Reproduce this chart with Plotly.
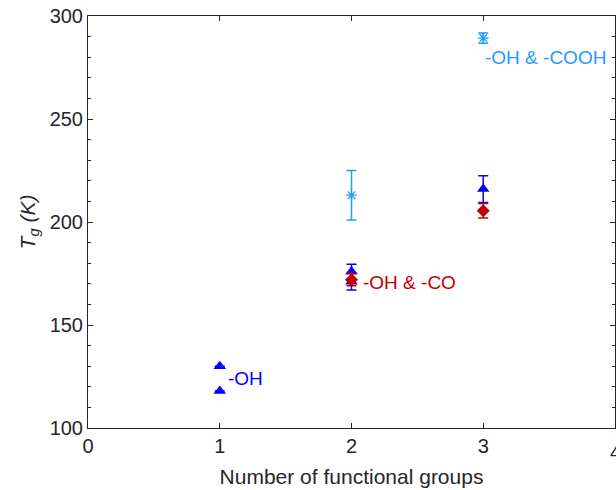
import plotly.graph_objects as go

# Glass transition temperature vs. number of functional groups
oh_x = [1, 1, 2, 2, 3]
oh_y = [130, 118, 176, 171, 216]
oh_err = [0, 0, 3.5, 4, 6.5]

co_x = [2, 3]
co_y = [172, 205.5]
co_err = [3, 3.5]

cooh_x = [2, 3]
cooh_y = [213, 289.3]
cooh_err = [12, 2.5]

x_ticks = [0, 1, 2, 3, 4]

labels = [
    {"text": "-OH", "x": 1.05, "y": 124, "color": "#0000FF"},
    {"text": "-OH & -CO", "x": 2.07, "y": 170.5, "color": "#C00000"},
    {"text": "-OH & -COOH", "x": 3.0, "y": 280, "color": "#1E9BFF"},
]

BLUE = "#0000FF"
RED = "#C00000"
CYAN = "#1E9BFF"
INK = "#262626"
FONT = "Liberation Sans, Arial"

fig = go.Figure()

fig.add_trace(go.Scatter(
    x=cooh_x, y=cooh_y, mode="markers",
    marker=dict(symbol="asterisk-open", size=9, color=CYAN,
                line=dict(color=CYAN, width=1.3)),
    error_y=dict(type="data", array=cooh_err, color=CYAN, thickness=1.5, width=5),
    showlegend=False,
))

fig.add_trace(go.Scatter(
    x=oh_x, y=oh_y, mode="markers",
    marker=dict(symbol="triangle-up", size=11, color=BLUE),
    error_y=dict(type="data", array=oh_err, color=BLUE, thickness=1.5, width=5),
    showlegend=False,
))

fig.add_trace(go.Scatter(
    x=co_x, y=co_y, mode="markers",
    marker=dict(symbol="diamond", size=10, color=RED),
    error_y=dict(type="data", array=co_err, color=RED, thickness=1.5, width=5),
    showlegend=False,
))

for lab in labels:
    fig.add_annotation(
        x=lab["x"], y=lab["y"], text=lab["text"], showarrow=False,
        xanchor="left", yanchor="middle",
        font=dict(family=FONT, size=19, color=lab["color"]),
    )

# the last x tick label sits on the page edge and is drawn by hand
fig.add_annotation(
    x=x_ticks[-1], y=0, yref="paper", text=str(x_ticks[-1]), showarrow=False,
    xanchor="center", yanchor="top", yshift=-11,
    font=dict(family=FONT, size=20, color=INK),
)

axis_common = dict(
    showline=True, linecolor=INK, linewidth=1, mirror="ticks",
    ticks="inside", ticklen=5, tickcolor=INK,
    showgrid=False, zeroline=False,
    tickfont=dict(family=FONT, size=20, color=INK),
)

fig.update_xaxes(
    range=[0, 4], tickvals=x_ticks[:-1],
    title=dict(text="Number of functional groups",
               font=dict(family=FONT, size=21, color=INK),
               standoff=13),
    **axis_common,
)
fig.update_yaxes(
    range=[100, 300], dtick=50, tick0=100,
    minor=dict(dtick=10, ticks="inside", ticklen=3, tickcolor=INK),
    title=dict(text="<i>T<sub>g</sub> (K)</i>",
               font=dict(family=FONT, size=21, color=INK),
               standoff=8),
    **axis_common,
)

fig.update_layout(
    width=616, height=490,
    margin=dict(l=88, r=1, t=16, b=62),
    plot_bgcolor="white", paper_bgcolor="white",
)

fig.write_html("out.html")
